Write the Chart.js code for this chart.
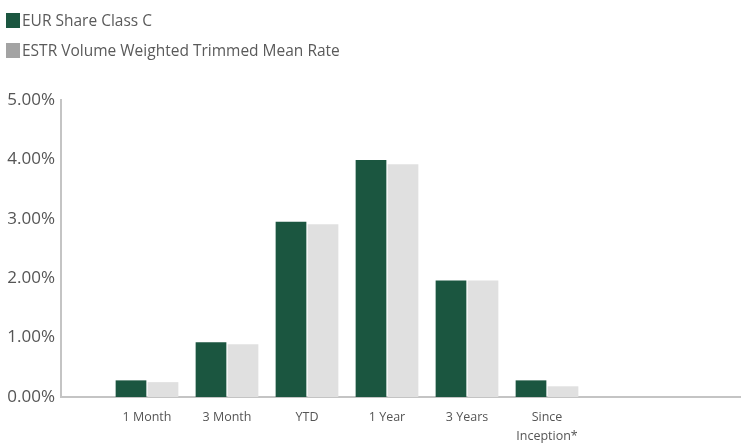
<!DOCTYPE html>
<html>
<head>
<meta charset="utf-8">
<script src="https://cdn.jsdelivr.net/npm/chart.js@4"></script>
<style>
    html, body { margin: 0; padding: 0; background: #fff; }
    #wrap { position: relative; width: 741px; height: 444px; }
    #legend { position: absolute; left: 6px; top: 5px; font-family: "Open Sans", sans-serif; font-size: 15.5px; color: #5a5a5a; }
    #legend .item { display: flex; align-items: center; height: 30px; }
    #legend .box { width: 14px; height: 15px; margin-right: 2px; }
</style>
</head>
<body>
<div id="wrap">
    <div id="legend"></div>
    <canvas id="perfChart" width="741" height="444"></canvas>
</div>
<script>
    // --- Data ---
    const categories = ['1 Month', '3 Month', 'YTD', '1 Year', '3 Years', ['Since', 'Inception*']];
    const shareClassC = [0.28, 0.92, 2.95, 3.99, 1.96, 0.28];
    const estrRate = [0.25, 0.89, 2.91, 3.92, 1.96, 0.18];
    const yTicks = [0, 1, 2, 3, 4, 5];

    const GREEN = '#1b5640';
    const BAR_GREY = '#e0e0e0';
    const LEGEND_GREY = '#a3a3a3';
    const TEXT = '#555555';

    const seriesNames = ['EUR Share Class C', 'ESTR Volume Weighted Trimmed Mean Rate'];
    const legendColors = [GREEN, LEGEND_GREY];

    // html legend (stacked, one per line like the original)
    const legendEl = document.getElementById('legend');
    seriesNames.forEach((name, i) => {
        const row = document.createElement('div');
        row.className = 'item';
        row.innerHTML = `<span class="box" style="background:${legendColors[i]}"></span><span>${name}</span>`;
        legendEl.appendChild(row);
    });

    const toPoints = arr => arr.map((v, i) => ({ x: i, y: v }));

    new Chart(document.getElementById('perfChart'), {
        type: 'bar',
        data: {
            datasets: [
                { label: seriesNames[0], data: toPoints(shareClassC), backgroundColor: GREEN },
                { label: seriesNames[1], data: toPoints(estrRate), backgroundColor: BAR_GREY }
            ]
        },
        options: {
            responsive: false,
            animation: false,
            layout: { padding: { top: 100, left: 0, right: 0, bottom: 0 } },
            datasets: { bar: { categoryPercentage: 0.8, barPercentage: 0.96 } },
            plugins: { legend: { display: false }, tooltip: { enabled: false } },
            scales: {
                x: {
                    type: 'linear',
                    bounds: 'data',
                    offset: false,
                    min: -1.075,
                    max: 7.425,
                    grid: { display: false, drawTicks: false },
                    border: { display: true, color: '#c4c4c4', width: 2 },
                    afterBuildTicks: scale => { scale.ticks = categories.map((c, i) => ({ value: i })); },
                    afterFit: scale => { scale.height = 47; },
                    ticks: {
                        color: TEXT,
                        font: { family: 'Open Sans', size: 12.5, lineHeight: 1.5 },
                        padding: 11,
                        maxRotation: 0,
                        autoSkip: false,
                        callback: (value) => categories[value]
                    }
                },
                y: {
                    min: 0,
                    max: 5,
                    grid: { display: false, drawTicks: false },
                    border: { display: true, color: '#c4c4c4', width: 2 },
                    afterBuildTicks: scale => { scale.ticks = yTicks.map(v => ({ value: v })); },
                    afterFit: scale => { scale.width = 61; },
                    ticks: {
                        color: TEXT,
                        font: { family: 'Open Sans', size: 17 },
                        padding: 6,
                        callback: v => v.toFixed(2) + '%'
                    }
                }
            }
        }
    });
</script>
</body>
</html>
